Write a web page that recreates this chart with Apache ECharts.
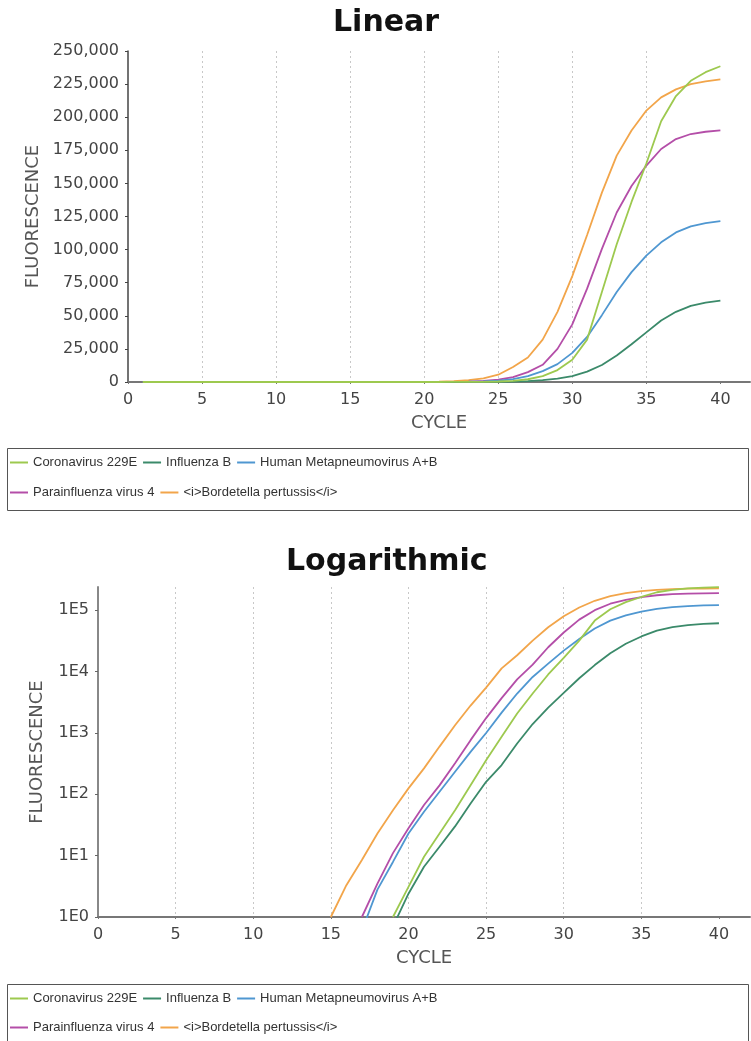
<!DOCTYPE html>
<html>
<head>
<meta charset="utf-8">
<script src="https://cdn.jsdelivr.net/npm/echarts@6/dist/echarts.min.js"></script>
<style>
html,body{margin:0;padding:0;background:#fff;}
#chart{width:751px;height:1041px;}
</style>
</head>
<body>
<div id="chart"></div>
<script>
// ---- data ----
const cycles = [1,2,3,4,5,6,7,8,9,10,11,12,13,14,15,16,17,18,19,20,21,22,23,24,25,26,27,28,29,30,31,32,33,34,35,36,37,38,39,40];

const coronavirus229E = [0,0,0,0,0,0,0,0,0,0,0,0,0,0,0,0,0,0,1.0,3.1,9.6,23,55,141,360,865,2080,4400,9000,16800,32000,68000,104000,136000,165000,197000,216000,227500,234000,238500];
const influenzaB = [0,0,0,0,0,0,0,0,0,0,0,0,0,0,0,0,0,0,0.7,2.4,6.6,14,30,71,160,300,675,1400,2600,4500,7800,12800,20000,28500,37500,46500,53000,57500,60000,61500];
const humanMetapneumovirus = [0,0,0,0,0,0,0,0,0,0,0,0,0,0,0,0,0.6,2.8,7.9,23,52,110,233,493,1000,2150,4400,8200,13500,22000,34000,50500,68000,83000,95500,105500,113000,117500,120000,121500];
const parainfluenza4 = [0,0,0,0,0,0,0,0,0,0,0,0,0,0,0,0,1.0,3.5,11,28,67,140,320,765,1750,3700,7500,13000,25000,43500,70500,100500,128000,148000,163500,176000,183500,187300,189000,190000];
const bordetellaPertussis = [0,0,0,0,0,0,0,0,0,0,0,0,0,0,1.0,3.3,8.5,23,55,125,265,600,1340,2800,5500,11300,18500,32000,53000,80000,111000,143000,171000,190000,205000,215000,221000,225000,227000,228500];

const seriesNames = ['Coronavirus 229E','Influenza B','Human Metapneumovirus A+B','Parainfluenza virus 4','<i>Bordetella pertussis</i>'];
const seriesValues = [coronavirus229E, influenzaB, humanMetapneumovirus, parainfluenza4, bordetellaPertussis];

const cycleTicks = [0,5,10,15,20,25,30,35,40];
const linearTicks = [0,25000,50000,75000,100000,125000,150000,175000,200000,225000,250000];
const logTicks = [1,10,100,1000,10000,100000];

// ---- styles ----
const seriesColors = ['#9dc94f','#3b8a6a','#4f97d1','#b44ea8','#f2a54a'];
const tickFont = {fontFamily:'DejaVu Sans', fontSize:16, color:'#444'};
const nameFont = {fontFamily:'DejaVu Sans', fontSize:18, color:'#555'};

function xAxisDef(gi){
  return {
    gridIndex: gi, type:'value', min:0, max:42,
    name:'CYCLE', nameLocation:'middle', nameGap:32, nameTextStyle:nameFont,
    axisLine:{show:true, onZero:false, lineStyle:{color:'#777', width:2}},
    axisTick:{show:true, length:2, customValues:cycleTicks, lineStyle:{color:'#777'}},
    axisLabel:Object.assign({margin:10, customValues:cycleTicks}, tickFont),
    splitLine:{show:true, showMinLine:false, showMaxLine:false, lineStyle:{color:'#c8c8c8', width:1, type:[2,3]}}
  };
}

const series = [];
for (let k = seriesNames.length - 1; k >= 0; k--) {
  const vals = seriesValues[k];
  const base = {
    type:'line', name:seriesNames[k], symbol:'none', showSymbol:false, clip:true,
    lineStyle:{width:1.8, color:seriesColors[k]}, itemStyle:{color:seriesColors[k]},
    emphasis:{disabled:true}, animation:false
  };
  series.push(Object.assign({}, base, {xAxisIndex:0, yAxisIndex:0,
    data: cycles.map((c,i)=>[c, vals[i]])}));
  series.push(Object.assign({}, base, {xAxisIndex:1, yAxisIndex:1, connectNulls:false,
    data: cycles.map((c,i)=>[c, vals[i] > 0 ? vals[i] : null])}));
}

function legendDef(items, top){
  return {
    data: items, left:10, top: top, padding:0, itemGap:6,
    icon:'rect', itemWidth:18, itemHeight:2, selectedMode:false,
    textStyle:{fontFamily:'Liberation Sans', fontSize:13, color:'#333'}
  };
}

const option = {
  backgroundColor:'#fff',
  animation:false,
  title:[
    {text:'Linear', left:333, top:8, padding:0, textStyle:{fontFamily:'DejaVu Sans', fontWeight:'bold', fontSize:30, color:'#111'}},
    {text:'Logarithmic', left:286, top:547, padding:0, textStyle:{fontFamily:'DejaVu Sans', fontWeight:'bold', fontSize:30, color:'#111'}}
  ],
  legend:[
    legendDef(seriesNames.slice(0,3), 456),
    legendDef(seriesNames.slice(3), 486),
    legendDef(seriesNames.slice(0,3), 992),
    legendDef(seriesNames.slice(3), 1021)
  ],
  grid:[
    {left:128, top:51, width:622, height:331},
    {left:98, top:587, width:652, height:330}
  ],
  xAxis:[xAxisDef(0), xAxisDef(1)],
  yAxis:[
    {gridIndex:0, type:'value', min:0, max:250000, interval:25000,
     name:'FLUORESCENCE', nameLocation:'middle', nameGap:84, nameTextStyle:nameFont,
     axisLine:{show:true, lineStyle:{color:'#444', width:1.5}},
     axisTick:{show:true, length:3, lineStyle:{color:'#444'}},
     axisLabel:Object.assign({margin:9, formatter:v=>Number(v).toLocaleString('en-US')}, tickFont),
     splitLine:{show:false}},
    {gridIndex:1, type:'log', logBase:10, min:1, max:240000,
     name:'FLUORESCENCE', nameLocation:'middle', nameGap:52, nameTextStyle:nameFont,
     axisLine:{show:true, lineStyle:{color:'#888', width:2}},
     axisTick:{show:true, length:3, customValues:logTicks, lineStyle:{color:'#666'}},
     axisLabel:Object.assign({margin:9, customValues:logTicks, formatter:v=>'1E'+Math.round(Math.log10(v))}, tickFont),
     splitLine:{show:false}}
  ],
  graphic:[
    {type:'rect', shape:{x:7.5, y:448.5, width:741, height:62}, style:{fill:'none', stroke:'#555', lineWidth:1}, z:-1},
    {type:'rect', shape:{x:7.5, y:984.5, width:741, height:70}, style:{fill:'none', stroke:'#555', lineWidth:1}, z:-1}
  ],
  series: series
};

const chart = echarts.init(document.getElementById('chart'), null, {renderer:'canvas'});
chart.setOption(option);
</script>
</body>
</html>
